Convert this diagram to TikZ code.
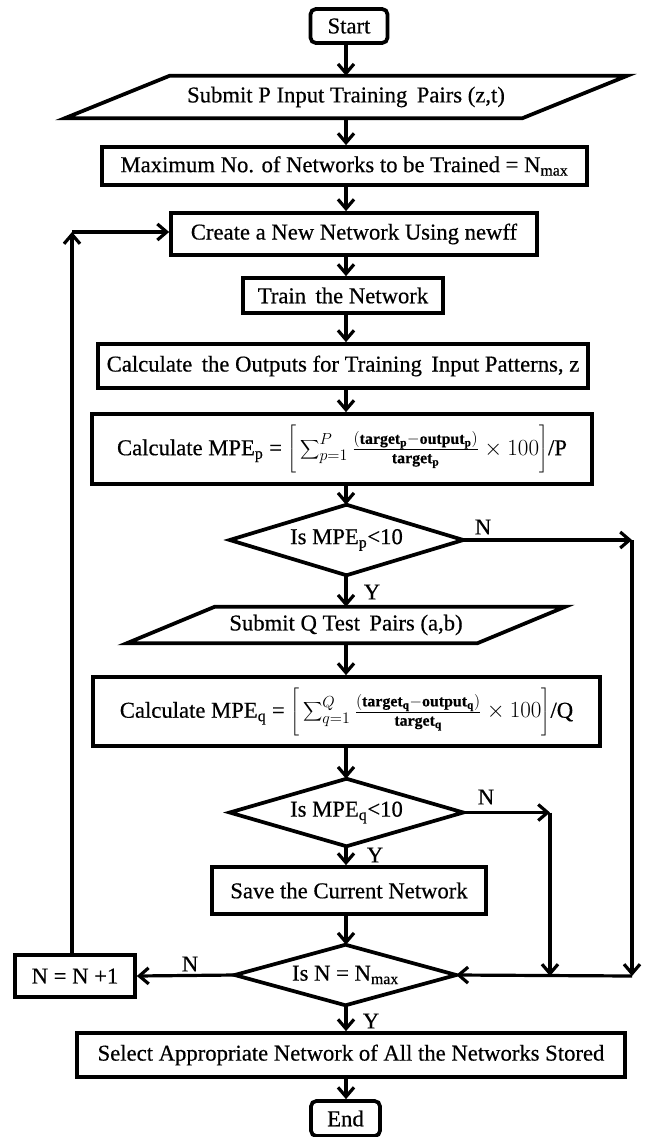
\documentclass[tikz,border=0pt]{standalone}
\usepackage{fontspec}
\setmainfont{Liberation Serif}[FakeBold=0.5]
\usetikzlibrary{arrows.meta,calc}
\newcommand\myfs{\fontsize{17}{20}\selectfont}
\begin{document}
\begin{tikzpicture}[x=0.75pt,y=-0.75pt,
  box/.style={draw,line width=2.8pt,rectangle,inner sep=0pt,font=\myfs},
  term/.style={box,rounded corners=4pt},
  shp/.style={rectangle,inner sep=0pt,font=\myfs},
  outl/.style={line width=2.8pt,line join=miter},
  arr/.style={line width=2.4pt,-{Straight Barb[length=7pt,width=12pt,line width=2.4pt]}},
  lbl/.style={font=\myfs,inner sep=0pt}]
\useasboundingbox (0,0) rectangle (646,1137);
\coordinate (col) at (346,0);

\node[term,minimum width=57.75pt,minimum height=25.5pt] (start) at (349,26) {Start};
\node[shp,minimum width=342.75pt,minimum height=31.5pt] (subP) at (346,97) {Submit P Input Training\, Pairs (z,t)};
\draw[outl] ($(subP.north west)+(52.5,0)$) -- ($(subP.north east)+(52.5,0)$) -- ($(subP.south east)+(-52.5,0)$) -- ($(subP.south west)+(-52.5,0)$) -- cycle;
\node[box,minimum width=363.75pt,minimum height=28.5pt] (maxB) at (344.5,166) {Maximum No. of Networks to be Trained = N\textsubscript{max}};
\node[box,minimum width=274.5pt,minimum height=31.5pt] (create) at (354,234) {Create a New Network Using newff};
\node[box,minimum width=150pt,minimum height=26.25pt] (train) at (343,295.5) {Train\, the Network};
\node[box,minimum width=367.5pt,minimum height=33pt] (calcO) at (343,366) {Calculate\, the Outputs for Training\, Input Patterns, z};
\node[box,minimum width=375pt,minimum height=52.5pt] (mpeP) at (342,449) {Calculate MPE\textsubscript{p} = $\left[\rule[-13pt]{0pt}{36pt}\displaystyle\sum\nolimits_{p=1}^{P}\textstyle\frac{(\mathbf{target_p}-\mathbf{output_p})}{\mathbf{target_p}}\times 100\right]$/P};
\node[shp,minimum width=174.75pt,minimum height=52.5pt] (dP) at (346.5,540) {Is MPE\textsubscript{p}<10};
\draw[outl] (dP.north) -- (dP.east) -- (dP.south) -- (dP.west) -- cycle;
\node[shp,minimum width=262.5pt,minimum height=27pt] (subQ) at (346,625) {Submit Q Test\, Pairs (a,b)};
\draw[outl] ($(subQ.north west)+(44,0)$) -- ($(subQ.north east)+(44,0)$) -- ($(subQ.south east)+(-44,0)$) -- ($(subQ.south west)+(-44,0)$) -- cycle;
\node[box,minimum width=380.25pt,minimum height=51.75pt] (mpeQ) at (346.5,711.5) {Calculate MPE\textsubscript{q} = $\left[\rule[-13pt]{0pt}{36pt}\displaystyle\sum\nolimits_{q=1}^{Q}\textstyle\frac{(\mathbf{target_q}-\mathbf{output_q})}{\mathbf{target_q}}\times 100\right]$/Q};
\node[shp,minimum width=174.75pt,minimum height=50.25pt] (dQ) at (346.5,812.5) {Is MPE\textsubscript{q}<10};
\draw[outl] (dQ.north) -- (dQ.east) -- (dQ.south) -- (dQ.west) -- cycle;
\node[box,minimum width=205.5pt,minimum height=35.25pt] (save) at (349,890.5) {Save the Current Network};
\node[shp,minimum width=165.75pt,minimum height=45pt] (dN) at (345.5,975) {Is N = N\textsubscript{max}};
\draw[outl] (dN.north) -- (dN.east) -- (dN.south) -- (dN.west) -- cycle;
\node[box,minimum width=90pt,minimum height=31.5pt] (inc) at (75,976) {N = N +1};
\node[box,minimum width=411pt,minimum height=33pt] (select) at (351,1055) {Select Appropriate Network of All the Networks Stored};
\node[term,minimum width=51.75pt,minimum height=26.25pt] (end) at (345.5,1118.5) {End};

\coordinate (cP1) at (632,540);
\coordinate (cP2) at (632,976);
\coordinate (cQ1) at (550,812.5);
\coordinate (cQ2) at (550,976);
\coordinate (cL) at (72,232);

\draw[arr] (col |- start.south) -- (col |- subP.north);
\draw[arr] (col |- subP.south) -- (col |- maxB.north);
\draw[arr] (col |- maxB.south) -- (col |- create.north);
\draw[arr] (col |- create.south) -- (col |- train.north);
\draw[arr] (col |- train.south) -- (col |- calcO.north);
\draw[arr] (col |- calcO.south) -- (col |- mpeP.north);
\draw[arr] (col |- mpeP.south) -- (col |- dP.north);
\draw[arr] (col |- dP.south) -- (col |- subQ.north);
\draw[arr] (col |- subQ.south) -- (col |- mpeQ.north);
\draw[arr] (col |- mpeQ.south) -- (col |- dQ.north);
\draw[arr] (col |- dQ.south) -- (col |- save.north);
\draw[arr] (col |- save.south) -- (col |- dN.north);
\draw[arr] (col |- dN.south) -- (col |- select.north);
\draw[arr] (col |- select.south) -- (col |- end.north);

\draw[arr] (dP.east) -- (cP1);
\draw[arr] (cP1) -- (cP2);
\draw[arr] (cP2) -- (dN.east);
\draw[arr] (dQ.east) -- (cQ1);
\draw[arr] (cQ1) -- (cQ2);
\draw[arr] (dN.west) -- (inc.east);
\draw[arr] (cL |- inc.north) -- (cL);
\draw[arr] (cL) -- (cL -| create.west);

\node[lbl] (nP) at (483,527) {N};
\node[lbl] (yP) at (372,592) {Y};
\node[lbl] (nQ) at (486,797) {N};
\node[lbl] (yQ) at (375,855) {Y};
\node[lbl] (nN) at (190,964) {N};
\node[lbl] (yN) at (371,1021) {Y};
\end{tikzpicture}
\end{document}
